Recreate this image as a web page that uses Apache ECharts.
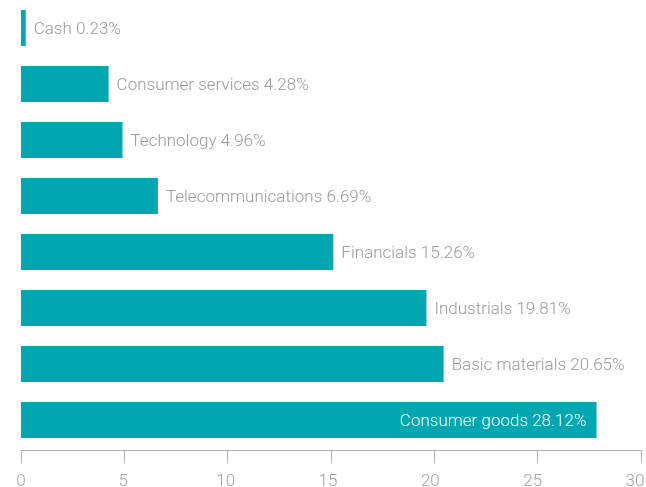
<!DOCTYPE html>
<html>
<head>
<meta charset="utf-8">
<script src="https://cdn.jsdelivr.net/npm/echarts@6/dist/echarts.min.js"></script>
<style>
  html, body { margin: 0; padding: 0; background: #fff; }
  #chart { width: 646px; height: 487px; }
</style>
</head>
<body>
<div id="chart"></div>
<script>
// Sector weights, top to bottom
const sectors = ['Cash', 'Consumer services', 'Technology', 'Telecommunications',
                 'Financials', 'Industrials', 'Basic materials', 'Consumer goods'];
const weights = [0.23, 4.28, 4.96, 6.69, 15.26, 19.81, 20.65, 28.12];
const xTicks = [0, 5, 10, 15, 20, 25, 30];

const BAR = '#00a7b0';
const AXIS = '#b0b0b0';
const FONT = 'Roboto, "Liberation Sans", sans-serif';

// Largest slice carries its label inside the bar
const insideIndex = weights.indexOf(Math.max(...weights));

const xMin = xTicks[0];
const xMax = xTicks[xTicks.length - 1];

const chart = echarts.init(document.getElementById('chart'), null, { renderer: 'canvas' });
chart.setOption({
  animation: false,
  grid: [
    // plotting area for the bars and tick labels
    { left: 21, right: 11, top: 0, height: 448, containLabel: false, outerBoundsMode: 'none' },
    // slightly wider frame carrying the axis line and tick marks
    { left: 21, right: 5, top: 0, height: 448, containLabel: false, outerBoundsMode: 'none' }
  ],
  xAxis: [
    {
      type: 'value', gridIndex: 0,
      min: xMin, max: xMax, interval: 5,
      offset: 2,
      splitLine: { show: false },
      axisLine: { show: false },
      axisTick: { show: false },
      axisLabel: { color: '#a0a0a0', fontSize: 17, fontFamily: FONT, fontWeight: 300, margin: 23 }
    },
    {
      type: 'value', gridIndex: 1,
      min: xMin, max: xMax, interval: 5,
      offset: 2,
      splitLine: { show: false },
      axisLine: { show: true, lineStyle: { color: AXIS, width: 1 } },
      axisTick: { show: true, length: 13, lineStyle: { color: AXIS } },
      axisLabel: { show: false }
    }
  ],
  yAxis: [
    {
      type: 'category', gridIndex: 0,
      inverse: true,
      data: sectors,
      axisLine: { show: false },
      axisTick: { show: false },
      axisLabel: { show: false }
    },
    {
      type: 'category', gridIndex: 1,
      inverse: true,
      data: sectors,
      show: false
    }
  ],
  series: [{
    type: 'bar',
    xAxisIndex: 0,
    yAxisIndex: 0,
    barWidth: 36,
    itemStyle: { color: BAR },
    data: weights.map((v, i) => ({
      value: v,
      label: i === insideIndex
        ? { show: true, position: 'insideRight', distance: 10, color: '#ffffff' }
        : { show: true, position: 'right', distance: 8, color: '#9a9a9a' }
    })),
    label: {
      fontSize: 17,
      fontFamily: FONT,
      fontWeight: 300,
      offset: [0, 2],
      formatter: p => sectors[p.dataIndex] + ' ' + p.value.toFixed(2) + '%'
    }
  }]
});
</script>
</body>
</html>
